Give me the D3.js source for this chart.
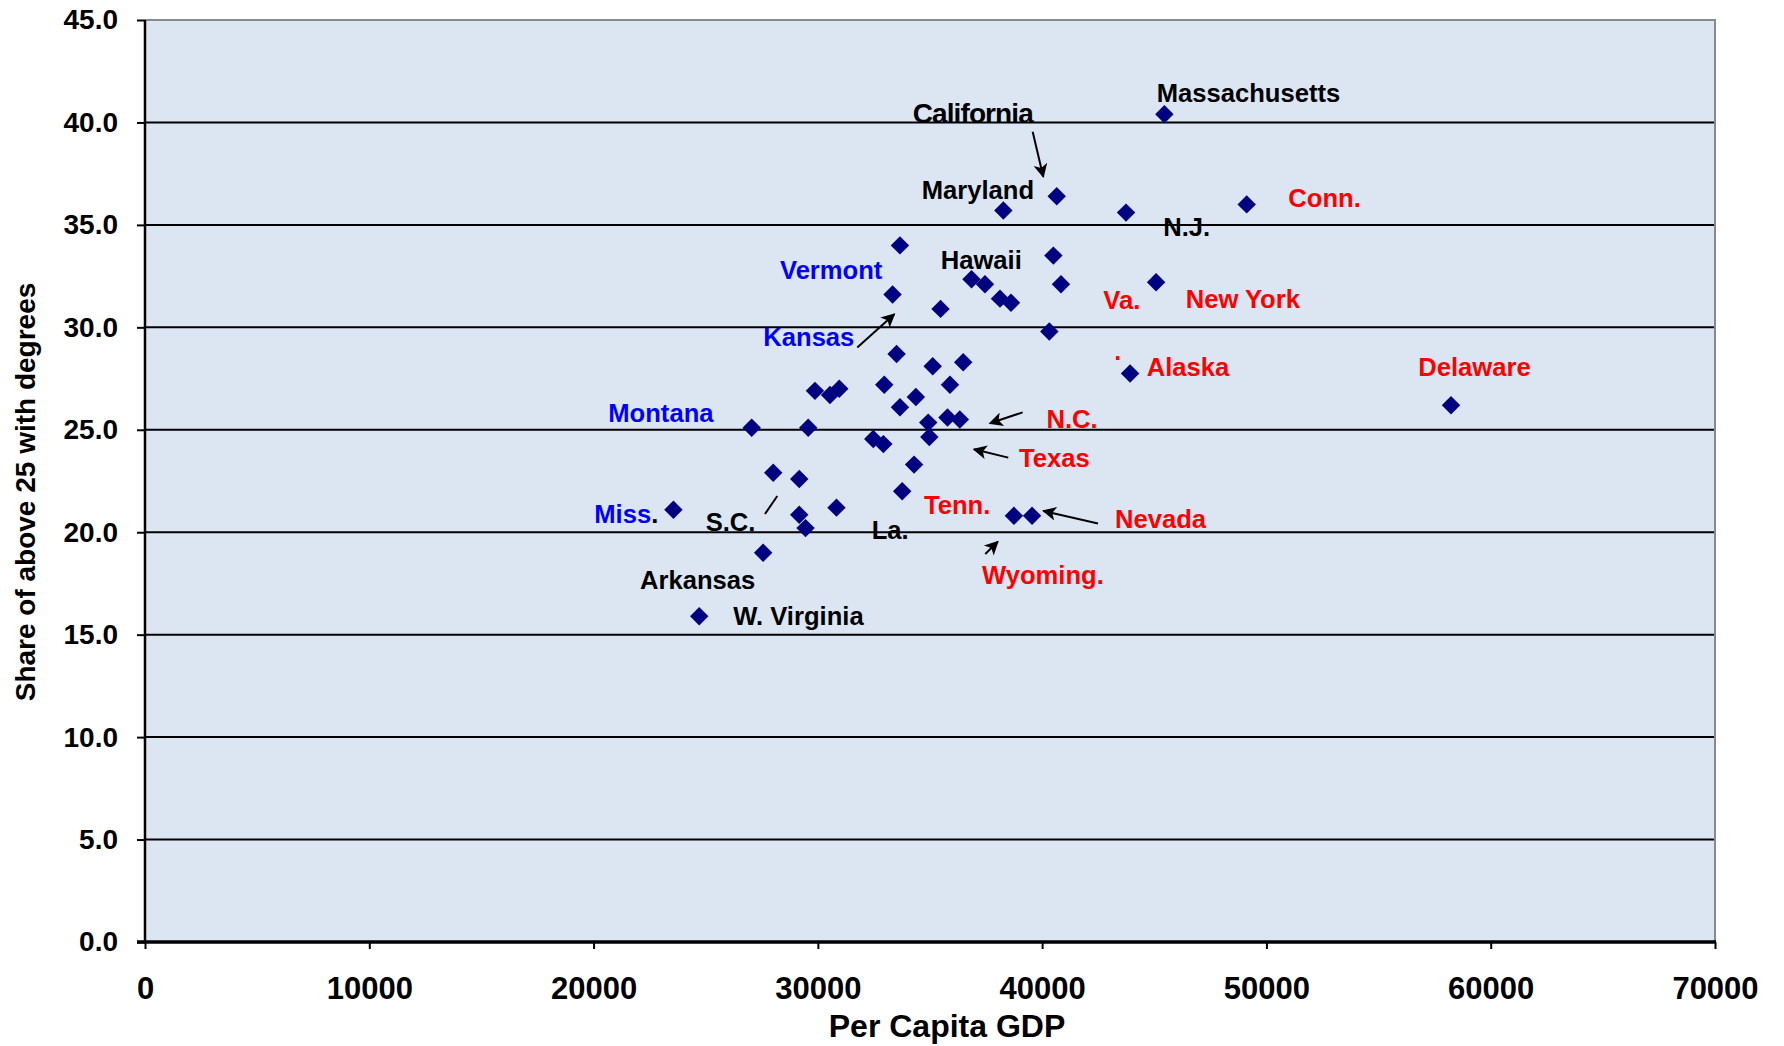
<!DOCTYPE html>
<html>
<head>
<meta charset="utf-8">
<script src="https://cdn.jsdelivr.net/npm/d3@7"></script>
<style>
  html, body { margin: 0; padding: 0; background: #ffffff; }
  svg text { font-family: "Liberation Sans", Arial, Helvetica, sans-serif; font-weight: bold; }
</style>
</head>
<body>
<svg id="chart" width="1784" height="1046"></svg>
<script>
// Per capita GDP (US$) for each state
const gdp = [
  45450, 40650, 38270, 43740, 49120, 33660, 40500, 36850, 37450, 40840,
  45080, 33330, 38120, 38610, 35470, 40320, 33510, 35120, 36480, 43920,
  32960, 35890, 29870, 30540, 30955, 34370, 33660, 58230, 27050, 29570,
  34920, 35780, 36330, 34970, 32470, 32920, 34290, 28010, 29170, 33760,
  23560, 30830, 29170, 29450, 38740, 39550, 27560, 24710
];
// Share of population above 25 holding a degree (%)
const share = [
  40.4, 36.4, 35.7, 35.6, 36.0, 34.0, 33.5, 32.35, 32.1, 32.1,
  32.2, 31.6, 31.4, 31.2, 30.9, 29.8, 28.7, 28.1, 28.3, 27.75,
  27.2, 27.2, 26.9, 26.7, 27.0, 26.6, 26.1, 26.2, 25.1, 25.1,
  25.35, 25.6, 25.5, 24.65, 24.55, 24.3, 23.3, 22.9, 22.6, 22.0,
  21.1, 21.2, 20.85, 20.2, 20.8, 20.8, 19.0, 15.9
];

const xTicks = [0, 10000, 20000, 30000, 40000, 50000, 60000, 70000];
const yTicks = [0, 5, 10, 15, 20, 25, 30, 35, 40, 45];

// State name annotations, anchored in data space (gdp, share)
const labelText = ["Massachusetts", "California", "Maryland", "N.J.", "Conn.", "Hawaii", "Va.", "New York",
  "Alaska", "Vermont", "Kansas", "Montana", "Miss", "S.C.", "Tenn.", "La.", "Arkansas", "W. Virginia",
  "Wyoming.", "Nevada", "Texas", "N.C.", "Delaware"];
const labelGdp = [45106, 34229, 34630, 45401, 50974, 35476, 42726, 46400,
  44661, 28311, 27567, 20656, 20032, 24999, 34732, 32400, 22070, 26230,
  37318, 43248, 38967, 40194, 56770];
const labelShare = [41.01, 39.96, 36.26, 34.47, 35.86, 32.83, 30.88, 30.93,
  27.62, 32.34, 29.09, 25.39, 20.46, 20.07, 20.89, 19.65, 17.21, 15.45,
  17.49, 20.21, 23.16, 25.09, 27.64];
const labelGroup = ["k", "big", "k", "k", "r", "k", "r", "r",
  "r", "b", "b", "b", "b", "k", "r", "k", "k", "k",
  "r", "r", "r", "r", "r"];

// Pointer lines (from -> to) in data space
const arrowFrom = [[39578, 39.55], [31758, 29.01], [37465, 18.94], [42490, 20.43], [38490, 23.64], [39131, 25.85]];
const arrowTo   = [[40050, 37.35], [33408, 30.64], [38022, 19.54], [40056, 21.04], [36961, 24.05], [37673, 25.32]];
const plainFrom = [[27643, 20.89]];
const plainTo   = [[28191, 21.77]];

const svg = d3.select("#chart");
const x = d3.scaleLinear().domain([0, 70000]).range([145, 1715]);
const y = d3.scaleLinear().domain([0, 45]).range([942, 20]);

const colors = { k: "#000000", big: "#000000", r: "#ff0000", b: "#0000ff" };

// arrowhead
svg.append("defs").append("marker")
  .attr("id", "head")
  .attr("viewBox", "0 0 10 10")
  .attr("refX", 9).attr("refY", 5)
  .attr("markerWidth", 16).attr("markerHeight", 14)
  .attr("markerUnits", "userSpaceOnUse")
  .attr("orient", "auto")
  .append("path").attr("d", "M0,0 L10,5 L0,10 L2.5,5 Z").attr("fill", "#000");

// plot background
svg.append("rect")
  .attr("x", x(0)).attr("y", y(45))
  .attr("width", x(70000) - x(0)).attr("height", y(0) - y(45))
  .attr("fill", "#dce6f2");

// horizontal gridlines
svg.append("g").selectAll("line")
  .data(yTicks.filter(v => v > 0 && v < 45))
  .join("line")
  .attr("x1", x(0)).attr("x2", x(70000))
  .attr("y1", d => y(d)).attr("y2", d => y(d))
  .attr("stroke", "#000").attr("stroke-width", 2);

// top and right border
svg.append("path")
  .attr("d", `M${x(0)},${y(45)} H${x(70000)} V${y(0)}`)
  .attr("fill", "none").attr("stroke", "#8a8a8a").attr("stroke-width", 2);

// y axis
const yAxis = svg.append("g")
  .attr("transform", `translate(${x(0)},0)`)
  .call(d3.axisLeft(y).tickValues(yTicks).tickFormat(d3.format(".1f")).tickSize(8).tickPadding(19));
yAxis.select(".domain").remove();
yAxis.selectAll(".tick line").attr("stroke", "#000").attr("stroke-width", 2);
yAxis.selectAll(".tick text")
  .attr("font-size", 28).attr("fill", "#000")
  .attr("font-family", "'Liberation Sans', Arial, sans-serif").attr("font-weight", "bold");

// x axis
const xAxis = svg.append("g")
  .attr("transform", `translate(0,${y(0)})`)
  .call(d3.axisBottom(x).tickValues(xTicks).tickFormat(d3.format("d")).tickSize(7).tickPadding(28));
xAxis.select(".domain").remove();
xAxis.selectAll(".tick line").attr("stroke", "#000").attr("stroke-width", 2);
xAxis.selectAll(".tick text")
  .attr("font-size", 31).attr("fill", "#000")
  .attr("font-family", "'Liberation Sans', Arial, sans-serif").attr("font-weight", "bold");

// axis lines
svg.append("line").attr("x1", x(0)).attr("x2", x(0)).attr("y1", y(45)).attr("y2", y(0) + 1)
  .attr("stroke", "#000").attr("stroke-width", 2.5);
svg.append("line").attr("x1", x(0) - 8).attr("x2", x(70000) + 1).attr("y1", y(0)).attr("y2", y(0))
  .attr("stroke", "#000").attr("stroke-width", 3.5);

// axis titles
svg.append("text")
  .attr("x", 947).attr("y", 1037)
  .attr("text-anchor", "middle").attr("font-size", 32).attr("fill", "#000")
  .text("Per Capita GDP");
svg.append("text")
  .attr("transform", "translate(35,492) rotate(-90)")
  .attr("text-anchor", "middle").attr("font-size", 28).attr("fill", "#000")
  .text("Share of above 25 with degrees");

// points
const pts = gdp.map((g, i) => ({ g, s: share[i] }));
svg.append("g").selectAll("path")
  .data(pts)
  .join("path")
  .attr("d", d3.symbol(d3.symbolSquare, 170))
  .attr("transform", d => `translate(${x(d.g)},${y(d.s)}) rotate(45)`)
  .attr("fill", "#000080");

// pointer arrows
svg.append("g").selectAll("line")
  .data(arrowFrom.map((f, i) => [f, arrowTo[i]]))
  .join("line")
  .attr("x1", d => x(d[0][0])).attr("y1", d => y(d[0][1]))
  .attr("x2", d => x(d[1][0])).attr("y2", d => y(d[1][1]))
  .attr("stroke", "#000").attr("stroke-width", 2)
  .attr("marker-end", "url(#head)");
svg.append("g").selectAll("line")
  .data(plainFrom.map((f, i) => [f, plainTo[i]]))
  .join("line")
  .attr("x1", d => x(d[0][0])).attr("y1", d => y(d[0][1]))
  .attr("x2", d => x(d[1][0])).attr("y2", d => y(d[1][1]))
  .attr("stroke", "#000").attr("stroke-width", 2);

// state labels
const labels = labelText.map((t, i) => ({ t, g: labelGdp[i], s: labelShare[i], c: labelGroup[i] }));
const lt = svg.append("g").selectAll("text")
  .data(labels)
  .join("text")
  .attr("x", d => x(d.g)).attr("y", d => y(d.s))
  .attr("font-size", d => d.c === "big" ? 28 : 25.6)
  .attr("letter-spacing", d => d.c === "big" ? -0.9 : 0)
  .attr("fill", d => colors[d.c]);
lt.append("tspan").text(d => d.t);
lt.filter(d => d.t === "Miss").append("tspan").attr("fill", "#000").text(".");

// stray red mark next to Alaska
svg.append("text")
  .attr("x", x(43220)).attr("y", y(28.4))
  .attr("font-size", 25).attr("fill", "#ff0000").text(".");
</script>
</body>
</html>
